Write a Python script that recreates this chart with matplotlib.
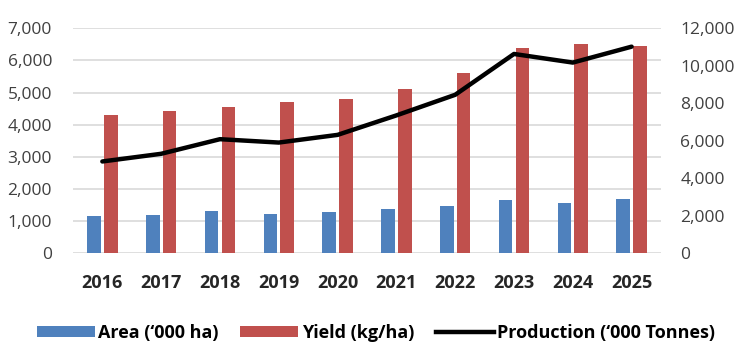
import matplotlib
matplotlib.use("Agg")
import matplotlib.pyplot as plt
import numpy as np
from matplotlib.ticker import FuncFormatter
from matplotlib.patches import Patch
from matplotlib.lines import Line2D

years = ["2016", "2017", "2018", "2019", "2020", "2021", "2022", "2023", "2024", "2025"]
area = [1140, 1180, 1320, 1230, 1280, 1370, 1460, 1650, 1560, 1690]
yield_ = [4310, 4410, 4550, 4690, 4790, 5100, 5610, 6400, 6500, 6450]
production = [4890, 5300, 6080, 5900, 6310, 7350, 8450, 10630, 10170, 11020]

left_ticks = [0, 1000, 2000, 3000, 4000, 5000, 6000, 7000]
right_ticks = [0, 2000, 4000, 6000, 8000, 10000, 12000]

blue = "#4f81bd"
red = "#c0504d"

plt.rcParams['font.family'] = ['Open Sans', 'DejaVu Sans']

fig = plt.figure(figsize=(7.52, 3.61), dpi=100)
ax = fig.add_axes([0.097, 0.299, 0.782, 0.6226])
ax2 = ax.twinx()

x = np.arange(len(years))
w = 0.23
off = 0.143
ax.bar(x - off, area, width=w, color=blue, zorder=3)
ax.bar(x + off, yield_, width=w, color=red, zorder=3)
ax2.plot(x, production, color="black", lw=3.2, solid_capstyle='round', zorder=4)

ax.set_xlim(-0.5, len(years) - 0.5)
ax.set_ylim(0, 7000)
ax2.set_ylim(0, 12000)
ax.set_yticks(left_ticks)
ax2.set_yticks(right_ticks)
fmt = FuncFormatter(lambda v, p: f"{int(v):,}")
ax.yaxis.set_major_formatter(fmt)
ax2.yaxis.set_major_formatter(fmt)
ax.set_xticks(x)
ax.set_xticklabels(years, fontweight='bold', fontsize=13, color="#262626")
ax.tick_params(axis='x', length=0, pad=15)
ax.tick_params(axis='y', length=0, pad=15, labelsize=12.5, labelcolor="#404040")
ax2.tick_params(axis='y', length=0, pad=14, labelsize=12.5, labelcolor="#404040")

ax.grid(axis='y', color="#d9d9d9", lw=1.2, zorder=0)
ax.set_axisbelow(True)
for a in (ax, ax2):
    for s in a.spines.values():
        s.set_visible(False)

handles = [Patch(facecolor=blue, edgecolor='none'),
           Patch(facecolor=red, edgecolor='none'),
           Line2D([0], [0], color='black', lw=3.2)]
labels = ["Area (\u2018000 ha)", "Yield (kg/ha)", "Production (\u2018000 Tonnes)"]
fig.legend(handles, labels, loc='center', bbox_to_anchor=(0.5, 0.078), ncol=3,
           frameon=False, handlelength=3.2, handleheight=0.5, handletextpad=0.2,
           columnspacing=1.2,
           prop={'family': ['Open Sans', 'DejaVu Sans'],
                 'size': 13, 'weight': 'bold'})

fig.savefig("out.png", dpi=100)
